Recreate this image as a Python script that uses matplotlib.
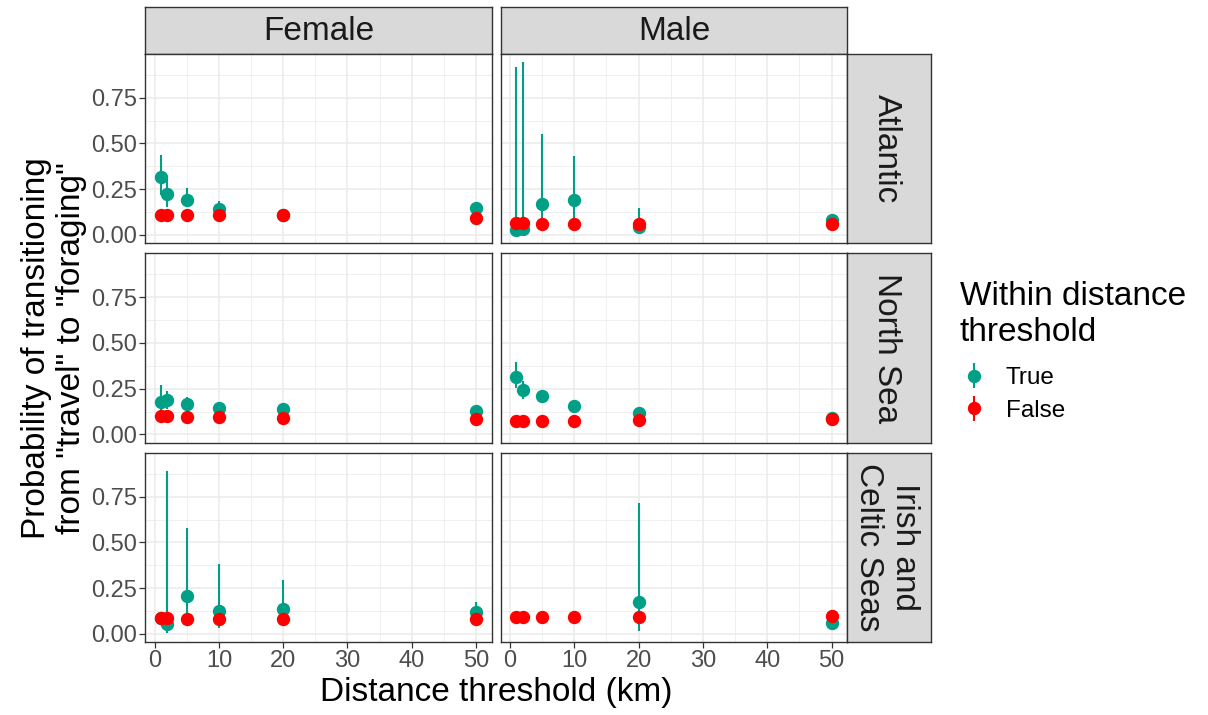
import numpy as np
import matplotlib
matplotlib.use('Agg')
import matplotlib.pyplot as plt
from matplotlib.ticker import MultipleLocator

plt.rcParams['font.family'] = ['Liberation Sans', 'DejaVu Sans']

# data
distances = [1, 2, 5, 10, 20, 50]
sexes = ['Female', 'Male']
regions = ['Atlantic', 'North Sea', 'Irish and\nCeltic Seas']
nan = np.nan

# estimate, lower, upper  (within threshold = True)
f_atl_true = [0.316, 0.223, 0.193, 0.142, 0.110, 0.146]
f_atl_true_lo = [0.220, 0.155, 0.160, 0.120, 0.100, 0.135]
f_atl_true_hi = [0.438, 0.310, 0.259, 0.188, 0.120, 0.160]
m_atl_true = [0.026, 0.031, 0.170, 0.193, 0.044, 0.080]
m_atl_true_lo = [0.004, 0.005, 0.060, 0.070, 0.015, 0.065]
m_atl_true_hi = [0.918, 0.943, 0.551, 0.432, 0.150, 0.095]
f_ns_true = [0.180, 0.186, 0.168, 0.142, 0.140, 0.126]
f_ns_true_lo = [0.125, 0.140, 0.140, 0.125, 0.125, 0.112]
f_ns_true_hi = [0.268, 0.237, 0.204, 0.160, 0.155, 0.140]
m_ns_true = [0.316, 0.241, 0.208, 0.155, 0.115, 0.089]
m_ns_true_lo = [0.255, 0.192, 0.180, 0.140, 0.100, 0.075]
m_ns_true_hi = [0.396, 0.292, 0.240, 0.170, 0.130, 0.100]
f_ics_true = [0.086, 0.055, 0.210, 0.128, 0.135, 0.122]
f_ics_true_lo = [0.070, 0.004, 0.100, 0.031, 0.070, 0.100]
f_ics_true_hi = [0.100, 0.892, 0.578, 0.383, 0.297, 0.172]
m_ics_true = [nan, nan, nan, nan, 0.172, 0.058]
m_ics_true_lo = [nan, nan, nan, nan, 0.016, 0.045]
m_ics_true_hi = [nan, nan, nan, nan, 0.717, 0.070]

# estimate, lower, upper  (within threshold = False)
f_atl_false = [0.111, 0.111, 0.111, 0.111, 0.111, 0.095]
f_atl_false_lo = [0.103, 0.103, 0.103, 0.103, 0.103, 0.088]
f_atl_false_hi = [0.119, 0.119, 0.119, 0.119, 0.119, 0.102]
m_atl_false = [0.064, 0.064, 0.062, 0.062, 0.062, 0.060]
m_atl_false_lo = [0.058, 0.058, 0.056, 0.056, 0.056, 0.054]
m_atl_false_hi = [0.070, 0.070, 0.068, 0.068, 0.068, 0.066]
f_ns_false = [0.099, 0.099, 0.097, 0.097, 0.091, 0.084]
f_ns_false_lo = [0.093, 0.093, 0.091, 0.091, 0.085, 0.078]
f_ns_false_hi = [0.105, 0.105, 0.103, 0.103, 0.097, 0.090]
m_ns_false = [0.075, 0.075, 0.072, 0.075, 0.077, 0.084]
m_ns_false_lo = [0.069, 0.069, 0.066, 0.069, 0.071, 0.078]
m_ns_false_hi = [0.081, 0.081, 0.078, 0.081, 0.083, 0.090]
f_ics_false = [0.086, 0.086, 0.084, 0.084, 0.084, 0.084]
f_ics_false_lo = [0.080, 0.080, 0.078, 0.078, 0.078, 0.078]
f_ics_false_hi = [0.092, 0.092, 0.090, 0.090, 0.090, 0.090]
m_ics_false = [0.095, 0.095, 0.095, 0.095, 0.095, 0.097]
m_ics_false_lo = [0.089, 0.089, 0.089, 0.089, 0.089, 0.091]
m_ics_false_hi = [0.101, 0.101, 0.101, 0.101, 0.101, 0.103]

true_data = {
    ('Female', 0): (f_atl_true, f_atl_true_lo, f_atl_true_hi),
    ('Male', 0): (m_atl_true, m_atl_true_lo, m_atl_true_hi),
    ('Female', 1): (f_ns_true, f_ns_true_lo, f_ns_true_hi),
    ('Male', 1): (m_ns_true, m_ns_true_lo, m_ns_true_hi),
    ('Female', 2): (f_ics_true, f_ics_true_lo, f_ics_true_hi),
    ('Male', 2): (m_ics_true, m_ics_true_lo, m_ics_true_hi),
}
false_data = {
    ('Female', 0): (f_atl_false, f_atl_false_lo, f_atl_false_hi),
    ('Male', 0): (m_atl_false, m_atl_false_lo, m_atl_false_hi),
    ('Female', 1): (f_ns_false, f_ns_false_lo, f_ns_false_hi),
    ('Male', 1): (m_ns_false, m_ns_false_lo, m_ns_false_hi),
    ('Female', 2): (f_ics_false, f_ics_false_lo, f_ics_false_hi),
    ('Male', 2): (m_ics_false, m_ics_false_lo, m_ics_false_hi),
}

teal = '#00A087'
red = '#FF0000'
W, H = 1208, 715

fig = plt.figure(figsize=(W / 100, H / 100), dpi=100)


def px_axes(x0, y0, x1, y1):
    # pixel box (top-left origin) -> figure axes
    return fig.add_axes([x0 / W, 1 - y1 / H, (x1 - x0) / W, (y1 - y0) / H])


col_x = [(145.3, 491.7), (500.7, 847.3)]
row_y = [(54, 243), (253.5, 442.5), (453, 642)]
strip_top = (7, 54)
strip_right = (847.3, 930.7)


def style_strip(ax):
    ax.set_facecolor('#D9D9D9')
    ax.set_xticks([])
    ax.set_yticks([])
    for s in ax.spines.values():
        s.set_color('#333333')
        s.set_linewidth(1.0)


handles = None
for c, sex in enumerate(sexes):
    sax = px_axes(col_x[c][0], strip_top[0], col_x[c][1], strip_top[1])
    style_strip(sax)
    sax.text(0.5, 0.47, sex, ha='center', va='center', fontsize=24,
             color='#1A1A1A', transform=sax.transAxes)
    for r in range(3):
        ax = px_axes(col_x[c][0], row_y[r][0], col_x[c][1], row_y[r][1])
        est, lo, hi = [np.array(v) for v in true_data[(sex, r)]]
        h1 = ax.errorbar(distances, est, yerr=[est - lo, hi - est], fmt='o',
                         color=teal, ms=8.6, elinewidth=1.5, capsize=0,
                         zorder=3, label='True')
        est, lo, hi = [np.array(v) for v in false_data[(sex, r)]]
        h2 = ax.errorbar(distances, est, yerr=[est - lo, hi - est], fmt='o',
                         color=red, ms=8.6, elinewidth=1.5, capsize=0,
                         zorder=4, label='False')
        if handles is None:
            handles = [h1, h2]

        ax.set_xlim(-1.45, 52.45)
        ax.set_ylim(-0.044, 0.989)
        ax.xaxis.set_major_locator(MultipleLocator(10))
        ax.xaxis.set_minor_locator(MultipleLocator(5))
        ax.yaxis.set_major_locator(MultipleLocator(0.25))
        ax.yaxis.set_minor_locator(MultipleLocator(0.125))
        ax.yaxis.set_major_formatter(plt.FuncFormatter(lambda v, p: f'{v:.2f}'))
        ax.grid(True, which='major', color='#EBEBEB', lw=1.1, zorder=0)
        ax.grid(True, which='minor', color='#EBEBEB', lw=0.55, zorder=0)
        ax.set_axisbelow(True)
        for s in ax.spines.values():
            s.set_color('#333333')
            s.set_linewidth(1.0)
        ax.tick_params(which='minor', length=0)
        ax.tick_params(which='major', length=4, width=0.9, color='#333333',
                       labelsize=17, labelcolor='#4D4D4D', pad=2)
        if c != 0:
            ax.tick_params(axis='y', left=False, labelleft=False)
        if r != 2:
            ax.tick_params(axis='x', bottom=False, labelbottom=False)

        if c == 1:
            rax = px_axes(strip_right[0], row_y[r][0], strip_right[1], row_y[r][1])
            style_strip(rax)
            rax.text(0.47, 0.5, regions[r], ha='center', va='center',
                     rotation=-90, fontsize=24, color='#1A1A1A',
                     multialignment='center', linespacing=1.2,
                     transform=rax.transAxes)

fig.text(496 / W, 1 - 692 / H, 'Distance threshold (km)', ha='center',
         va='center', fontsize=24)
fig.text(54 / W, 1 - 348 / H,
         'Probability of transitioning\nfrom "travel" to "foraging"',
         ha='center', va='center', rotation=90, fontsize=24,
         multialignment='center', linespacing=1.2)

# legend title drawn as text, keys below it
fig.text(960 / W, 1 - 281 / H, 'Within distance\nthreshold', ha='left',
         va='top', fontsize=24, linespacing=1.2)
leg = fig.legend(handles, ['True', 'False'], loc='upper left',
                 bbox_to_anchor=(962 / W, 1 - 367 / H), frameon=False,
                 fontsize=17.5, handlelength=1.0, handletextpad=0.8,
                 labelspacing=0.45, borderpad=0, borderaxespad=0)

fig.savefig('out.png', dpi=100)
